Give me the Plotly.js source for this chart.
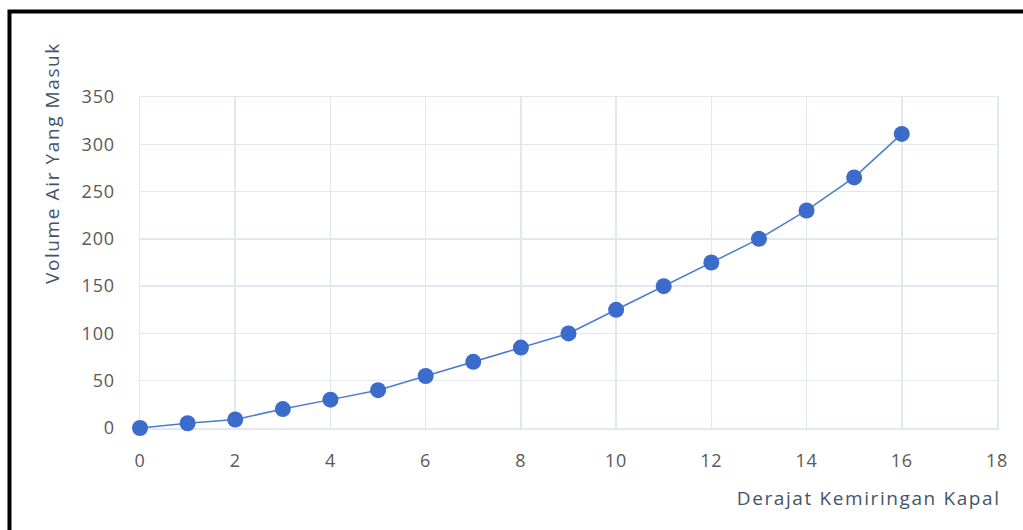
<!DOCTYPE html>
<html>
<head>
<meta charset="utf-8">
<script src="https://cdn.plot.ly/plotly-3.0.1.min.js"></script>
<style>html,body{margin:0;padding:0;background:#fff;}#chart{width:1023px;height:530px;}
#chart .annotation-text{letter-spacing:1.6px;}
#chart .xtick text,#chart .ytick text{letter-spacing:0.8px;}</style>
</head>
<body>
<div id="chart"></div>
<script>
const derajat = [0,1,2,3,4,5,6,7,8,9,10,11,12,13,14,15,16];
const volume = [0,5,9,20,30,40,55,70,85,100,125,150,175,200,230,265,311];
const xTicks = [0,2,4,6,8,10,12,14,16,18];
const yTicks = [0,50,100,150,200,250,300,350];
const xTitle = "Derajat Kemiringan Kapal";
const yTitle = "Volume Air Yang Masuk";

const gridColor = "#E3E7EE";
const tickFont = {family: "Open Sans", size: 18, color: "#595959"};
const trace = {
  x: derajat, y: volume, type: "scatter", mode: "lines+markers",
  cliponaxis: false,
  line: {color: "#4A7BD0", width: 1.5},
  marker: {color: "#3B6CCB", size: 16}
};
const layout = {
  width: 1023, height: 530,
  margin: {l: 140, r: 26, t: 97, b: 102},
  paper_bgcolor: "#fff", plot_bgcolor: "#fff",
  showlegend: false,
  xaxis: {range: [0, 18], tickvals: xTicks, ticktext: xTicks.map(String),
    showgrid: true, gridcolor: gridColor, gridwidth: 1.5, zeroline: false,
    showline: true, linecolor: gridColor, linewidth: 1.5, mirror: true, layer: "below traces",
    ticks: "outside", tickcolor: "rgba(0,0,0,0)", ticklen: 16,
    tickfont: tickFont, automargin: false},
  yaxis: {range: [0, 350], tickvals: yTicks, ticktext: yTicks.map(String),
    showgrid: true, gridcolor: gridColor, gridwidth: 1.5, zeroline: false,
    showline: true, linecolor: gridColor, linewidth: 1.5, mirror: true, layer: "below traces",
    ticks: "outside", tickcolor: "rgba(0,0,0,0)", ticklen: 20,
    tickfont: tickFont, automargin: false},
  annotations: [
    {text: xTitle, xref: "paper", yref: "paper", x: 0.984, y: -0.21, xanchor: "right", yanchor: "middle",
     showarrow: false, font: {family: "Open Sans", size: 19, color: "#44546A"}},
    {text: yTitle, xref: "paper", yref: "paper", x: -0.1027, y: 0.80, xanchor: "center", yanchor: "middle",
     textangle: -90, showarrow: false, font: {family: "Open Sans", size: 19, color: "#44546A"}}
  ],
  shapes: [
    {type: "path", xref: "paper", yref: "paper",
     path: "M -0.1523,-0.4 L -0.1523,1.2583 L 1.1,1.2583",
     line: {color: "#000", width: 4}}
  ]
};
Plotly.newPlot("chart", [trace], layout, {displayModeBar: false, staticPlot: true});
</script>
</body>
</html>
